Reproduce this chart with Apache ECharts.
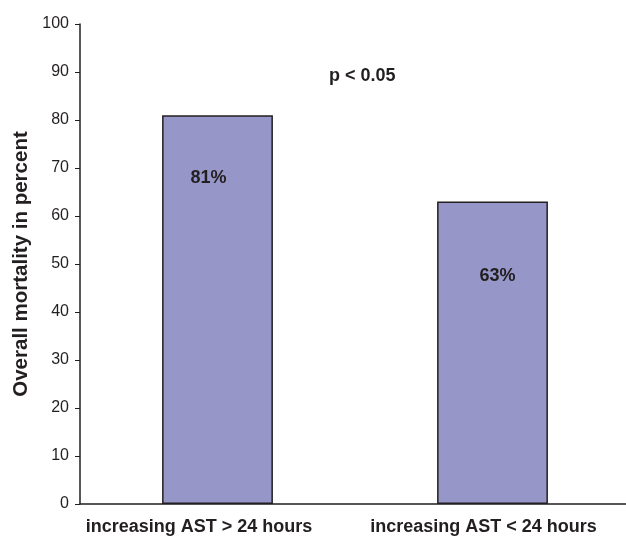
<!DOCTYPE html>
<html>
<head>
<meta charset="utf-8">
<script src="https://cdn.jsdelivr.net/npm/echarts@6/dist/echarts.min.js"></script>
<style>html,body{margin:0;padding:0;background:#fff;}#c{width:626px;height:540px;}</style>
</head>
<body>
<div id="c"></div>
<script>
const categories = ['increasing AST > 24 hours', 'increasing AST < 24 hours'];
const mortality = [81, 63];
const valueLabels = ['81%', '63%'];
const yTicks = [0, 10, 20, 30, 40, 50, 60, 70, 80, 90, 100];
const annotation = 'p < 0.05';
const yTitle = 'Overall mortality in percent';

const FONT = '"Liberation Sans", Arial, Helvetica, sans-serif';
const labelOffsets = [[-9, 54], [5, 65]];
const catPadding = [[0, 37, 0, 0], [0, 18, 0, 0]];

const chart = echarts.init(document.getElementById('c'));
chart.setOption({
  animation: false,
  backgroundColor: '#ffffff',
  title: {
    text: annotation,
    left: 324, top: 62,
    textStyle: { fontFamily: FONT, fontSize: 18, fontWeight: 'bold', color: '#231f20' }
  },
  grid: { left: 80, width: 550, top: 24, bottom: 36, containLabel: false, outerBoundsMode: 'none' },
  xAxis: {
    type: 'category',
    data: categories.map((c, i) => ({ value: c, textStyle: { padding: catPadding[i] } })),
    axisLine: { show: true, lineStyle: { color: '#231f20', width: 1.5 } },
    axisTick: { show: false },
    axisLabel: { margin: 14, fontFamily: FONT, fontSize: 18, fontWeight: 'bold', color: '#231f20', interval: 0 },
    splitLine: { show: false }
  },
  yAxis: {
    type: 'value',
    min: yTicks[0], max: yTicks[yTicks.length - 1], interval: yTicks[1] - yTicks[0],
    name: yTitle,
    nameLocation: 'middle',
    nameGap: 48,
    nameTextStyle: { fontFamily: FONT, fontSize: 20.5, fontWeight: 'bold', color: '#231f20' },
    axisLine: { show: true, lineStyle: { color: '#231f20', width: 1.5 } },
    axisTick: { show: true, length: 5, lineStyle: { color: '#231f20' } },
    axisLabel: { margin: 11, fontFamily: FONT, fontSize: 16, color: '#231f20' },
    splitLine: { show: false }
  },
  series: [{
    type: 'bar',
    barWidth: '40.3%',
    data: mortality.map((v, i) => ({
      value: v,
      label: { offset: labelOffsets[i], formatter: valueLabels[i] }
    })),
    itemStyle: { color: '#9696c9', borderColor: '#231f20', borderWidth: 1.5 },
    label: {
      show: true, position: 'insideTop', distance: 0,
      fontFamily: FONT, fontSize: 18, fontWeight: 'bold', color: '#231f20'
    }
  }]
});
</script>
</body>
</html>
